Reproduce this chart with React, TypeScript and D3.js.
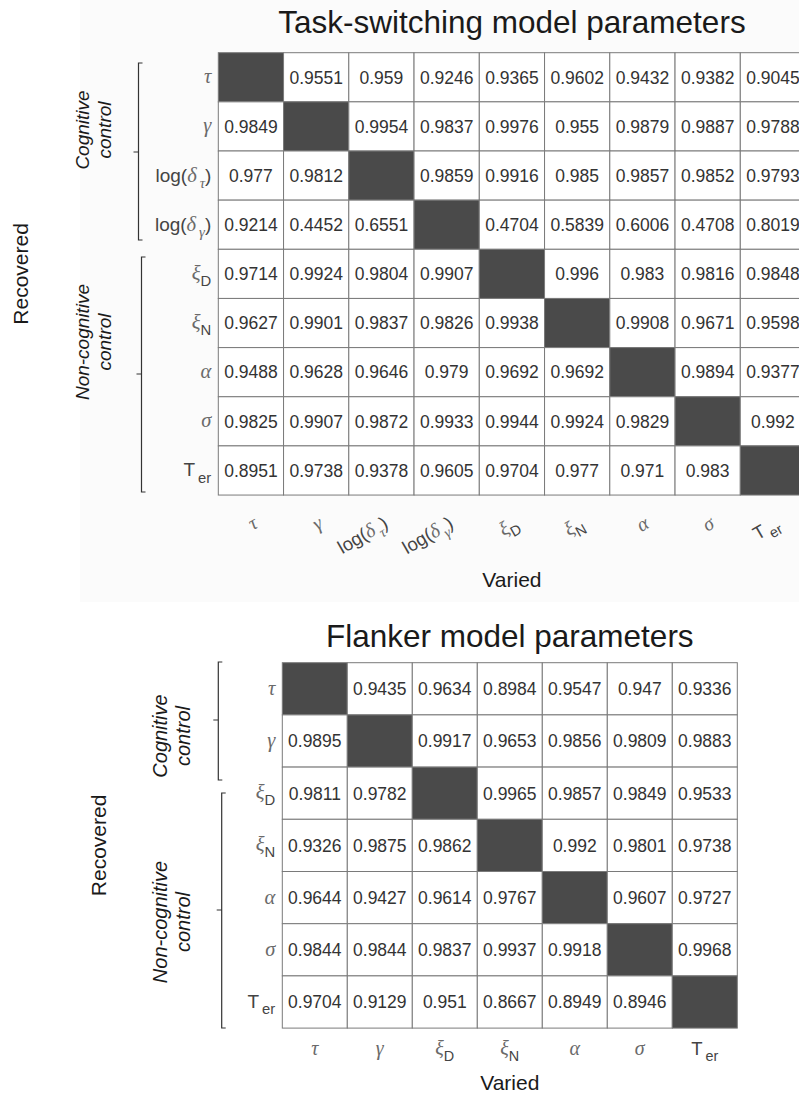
import React from 'react';
import * as d3 from 'd3';

// ---------- data ----------
const tsParams = ['tau', 'gamma', 'logdt', 'logdg', 'xiD', 'xiN', 'alpha', 'sigma', 'Ter'];
const tsValues: (number | null)[][] = [
  [null, 0.9551, 0.959, 0.9246, 0.9365, 0.9602, 0.9432, 0.9382, 0.9045],
  [0.9849, null, 0.9954, 0.9837, 0.9976, 0.955, 0.9879, 0.9887, 0.9788],
  [0.977, 0.9812, null, 0.9859, 0.9916, 0.985, 0.9857, 0.9852, 0.9793],
  [0.9214, 0.4452, 0.6551, null, 0.4704, 0.5839, 0.6006, 0.4708, 0.8019],
  [0.9714, 0.9924, 0.9804, 0.9907, null, 0.996, 0.983, 0.9816, 0.9848],
  [0.9627, 0.9901, 0.9837, 0.9826, 0.9938, null, 0.9908, 0.9671, 0.9598],
  [0.9488, 0.9628, 0.9646, 0.979, 0.9692, 0.9692, null, 0.9894, 0.9377],
  [0.9825, 0.9907, 0.9872, 0.9933, 0.9944, 0.9924, 0.9829, null, 0.992],
  [0.8951, 0.9738, 0.9378, 0.9605, 0.9704, 0.977, 0.971, 0.983, null],
];

const flParams = ['tau', 'gamma', 'xiD', 'xiN', 'alpha', 'sigma', 'Ter'];
const flValues: (number | null)[][] = [
  [null, 0.9435, 0.9634, 0.8984, 0.9547, 0.947, 0.9336],
  [0.9895, null, 0.9917, 0.9653, 0.9856, 0.9809, 0.9883],
  [0.9811, 0.9782, null, 0.9965, 0.9857, 0.9849, 0.9533],
  [0.9326, 0.9875, 0.9862, null, 0.992, 0.9801, 0.9738],
  [0.9644, 0.9427, 0.9614, 0.9767, null, 0.9607, 0.9727],
  [0.9844, 0.9844, 0.9837, 0.9937, 0.9918, null, 0.9968],
  [0.9704, 0.9129, 0.951, 0.8667, 0.8949, 0.8946, null],
];

const tsGroups = [
  { name: ['Cognitive', 'control'], count: 4 },
  { name: ['Non-cognitive', 'control'], count: 5 },
];
const flGroups = [
  { name: ['Cognitive', 'control'], count: 2 },
  { name: ['Non-cognitive', 'control'], count: 5 },
];

// ---------- label glyph structure ----------
type Seg = { t: string; k: 'g' | 's'; sub?: boolean };
const labelSegs: Record<string, Seg[]> = {
  tau: [{ t: 'τ', k: 'g' }],
  gamma: [{ t: 'γ', k: 'g' }],
  logdt: [{ t: 'log(', k: 's' }, { t: 'δ', k: 'g' }, { t: '\u2009τ', k: 'g', sub: true }, { t: ')', k: 's' }],
  logdg: [{ t: 'log(', k: 's' }, { t: 'δ', k: 'g' }, { t: '\u2009γ', k: 'g', sub: true }, { t: ')', k: 's' }],
  xiD: [{ t: 'ξ', k: 'g' }, { t: 'D', k: 's', sub: true }],
  xiN: [{ t: 'ξ', k: 'g' }, { t: 'N', k: 's', sub: true }],
  alpha: [{ t: 'α', k: 'g' }],
  sigma: [{ t: 'σ', k: 'g' }],
  Ter: [{ t: 'T', k: 's' }, { t: '\u2009er', k: 's', sub: true }],
};

const SANS = '"Liberation Sans", Arial, Helvetica, sans-serif';
const SERIF = '"Liberation Serif", "DejaVu Serif", serif';

function Label(props: { id: string; x: number; y: number; anchor: string; size: number; transform?: string }) {
  const { id, x, y, anchor, size, transform } = props;
  const segs = labelSegs[id];
  let shift = 0;
  const subShift = size * 0.32;
  return (
    <text x={x} y={y} textAnchor={anchor} transform={transform} fontSize={size} fontFamily={SANS}>
      {segs.map((s, i) => {
        const target = s.sub ? subShift : 0;
        const dy = target - shift;
        shift = target;
        const fs = s.sub ? size * 0.78 : s.k === 'g' ? size * 1.08 : size;
        return (
          <tspan
            key={i}
            dy={dy}
            fontSize={fs}
            fontFamily={s.k === 'g' ? SERIF : SANS}
            fontStyle={s.k === 'g' ? 'italic' : 'normal'}
            fill={s.k === 'g' ? '#6a6a6a' : '#444'}
          >
            {s.t}
          </tspan>
        );
      })}
    </text>
  );
}

type PanelCfg = {
  params: string[];
  values: (number | null)[][];
  groups: { name: string[]; count: number }[];
  title: string;
  titleY: number;
  x0: number;
  y0: number;
  cw: number;
  rh: number;
  rotateCols: boolean;
  colLabelY: number;
  variedY: number;
  recX: number;
  brackets: { x: number; top: number; bottom: number; tick: number; textX: number; textY: number; fs: number }[];
};

function Panel({ cfg }: { cfg: PanelCfg }) {
  const n = cfg.params.length;
  const x = d3.scaleBand<number>().domain(d3.range(n)).range([cfg.x0, cfg.x0 + n * cfg.cw]);
  const y = d3.scaleBand<number>().domain(d3.range(n)).range([cfg.y0, cfg.y0 + n * cfg.rh]);
  const cx = (x.range()[0] + x.range()[1]) / 2;
  const cy = (y.range()[0] + y.range()[1]) / 2;
  return (
    <g>
      <text x={cx} y={cfg.titleY} textAnchor="middle" fontSize={31.5} fontFamily={SANS} fill="#1a1a1a">
        {cfg.title}
      </text>
      {cfg.values.map((row, r) =>
        row.map((v, c) => (
          <g key={`${r}-${c}`}>
            <rect
              x={x(c)}
              y={y(r)}
              width={x.bandwidth()}
              height={y.bandwidth()}
              fill={v === null ? '#4a4a4a' : '#ffffff'}
              stroke="#7a7a7a"
              strokeWidth={1}
            />
            {v !== null && (
              <text
                x={(x(c) as number) + x.bandwidth() / 2}
                y={(y(r) as number) + y.bandwidth() / 2}
                dy="0.36em"
                textAnchor="middle"
                fontSize={17.5}
                fontFamily={SANS}
                fill="#333"
              >
                {String(v)}
              </text>
            )}
          </g>
        ))
      )}
      {cfg.params.map((p, r) => (
        <Label key={'r' + p} id={p} x={cfg.x0 - 7} y={(y(r) as number) + y.bandwidth() / 2 + 6} anchor="end" size={19} />
      ))}
      {cfg.params.map((p, c) => {
        const px = (x(c) as number) + x.bandwidth() / 2;
        return cfg.rotateCols ? (
          <Label
            key={'c' + p}
            id={p}
            x={px + 8}
            y={cfg.colLabelY}
            anchor="end"
            size={18.5}
            transform={`rotate(-30, ${px + 8}, ${cfg.colLabelY})`}
          />
        ) : (
          <Label key={'c' + p} id={p} x={px} y={cfg.colLabelY} anchor="middle" size={18.5} />
        );
      })}
      <text x={cx} y={cfg.variedY} textAnchor="middle" fontSize={21} fontFamily={SANS} fill="#1a1a1a">
        Varied
      </text>
      <text
        transform={`translate(${cfg.recX}, ${cy}) rotate(-90)`}
        textAnchor="middle"
        dy="0.36em"
        fontSize={21}
        fontFamily={SANS}
        fill="#1a1a1a"
      >
        Recovered
      </text>
      {cfg.groups.map((g, i) => {
        const b = cfg.brackets[i];
        return (
          <g key={'g' + i}>
            <path
              d={`M${b.x + 4},${b.top}H${b.x}V${b.bottom}H${b.x + 4}M${b.x},${b.tick}H${b.x - 5}`}
              fill="none"
              stroke="#333"
              strokeWidth={1.2}
            />
            <text
              transform={`translate(${b.textX}, ${b.textY}) rotate(-90)`}
              textAnchor="middle"
              fontSize={b.fs}
              fontFamily={SANS}
              fontStyle="italic"
              fill="#1a1a1a"
            >
              <tspan x={0} dy="-0.25em">{g.name[0]}</tspan>
              <tspan x={0} dy="1.15em">{g.name[1]}</tspan>
            </text>
          </g>
        );
      })}
    </g>
  );
}

const topCfg: PanelCfg = {
  params: tsParams,
  values: tsValues,
  groups: tsGroups,
  title: 'Task-switching model parameters',
  titleY: 33,
  x0: 218.3,
  y0: 52.7,
  cw: 65.25,
  rh: 49.15,
  rotateCols: true,
  colLabelY: 527,
  variedY: 587,
  recX: 20,
  brackets: [
    { x: 138.5, top: 63, bottom: 240, tick: 152, textX: 94, textY: 130, fs: 19 },
    { x: 141.5, top: 257, bottom: 492, tick: 374, textX: 94, textY: 342, fs: 19 },
  ],
};

const botCfg: PanelCfg = {
  params: flParams,
  values: flValues,
  groups: flGroups,
  title: 'Flanker model parameters',
  titleY: 647,
  x0: 282.3,
  y0: 662.7,
  cw: 65,
  rh: 52.2,
  rotateCols: false,
  colLabelY: 1055,
  variedY: 1090,
  recX: 98,
  brackets: [
    { x: 218.3, top: 662, bottom: 780, tick: 720, textX: 172, textY: 736, fs: 20 },
    { x: 221.7, top: 793, bottom: 1028, tick: 910, textX: 172, textY: 922, fs: 20 },
  ],
};

export default function App() {
  return (
    <svg
      width={799}
      height={1095}
      viewBox="0 0 799 1095"
      style={{ position: 'absolute', left: 0, top: 0, background: '#fff' }}
    >
      <rect x={80} y={0} width={719} height={602} fill="#fbfbfb" />
      <Panel cfg={topCfg} />
      <Panel cfg={botCfg} />
    </svg>
  );
}
